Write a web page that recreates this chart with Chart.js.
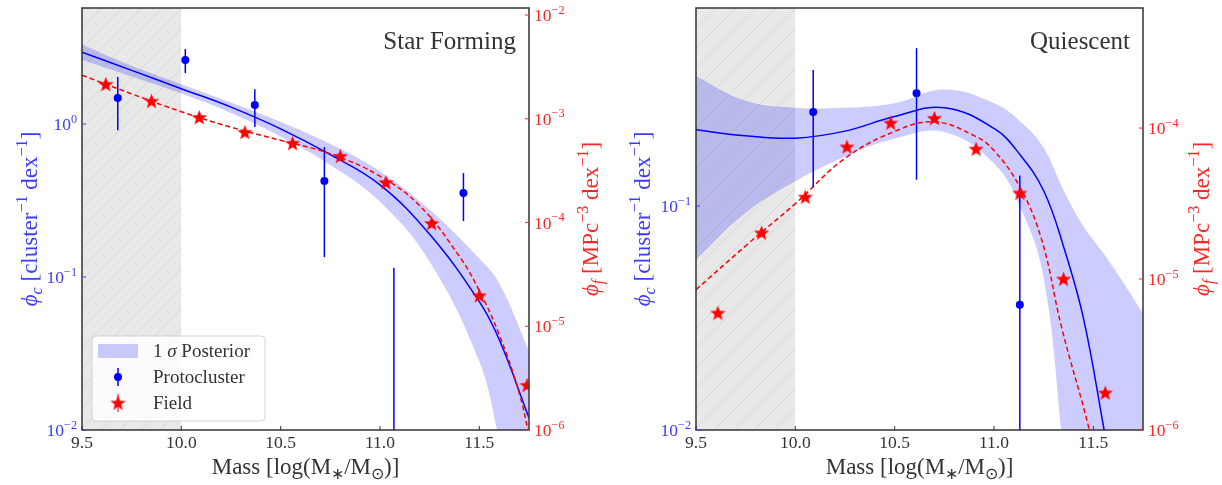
<!DOCTYPE html>
<html>
<head>
<meta charset="utf-8">
<script src="https://cdn.jsdelivr.net/npm/chart.js@4/dist/chart.umd.min.js"></script>
<style>
  body { margin: 0; background: #fff; }
  .panel { position: absolute; top: 0; width: 611px; height: 485px; }
</style>
</head>
<body>
<div class="panel" style="left:0"><canvas id="sfChart" width="611" height="485"></canvas></div>
<div class="panel" style="left:611px"><canvas id="qChart" width="611" height="485"></canvas></div>
<script>
/* shared axis data */
const massTicks = [9.5, 10.0, 10.5, 11.0, 11.5];
const massRange = [9.5, 11.75];
const shadeMass = [9.5, 10.0];   // incompleteness region

/* STAR FORMING */
const sfClusterMass = [9.68, 10.02, 10.37, 10.72, 11.07, 11.42];
const sfClusterPhi  = [1.48, 2.62, 1.33, 0.424, 0.005, 0.354];
const sfClusterLo   = [0.91, 2.15, 0.955, 0.135, 0.0001, 0.232];
const sfClusterHi   = [2.03, 3.09, 1.69, 0.708, 0.115, 0.478];

const sfFieldMass = [9.62, 9.85, 10.09, 10.32, 10.56, 10.80, 11.03, 11.26, 11.50, 11.74];
const sfFieldPhi  = [2.15e-3, 1.48e-3, 1.03e-3, 7.4e-4, 5.8e-4, 4.35e-4, 2.43e-4, 9.8e-5, 1.97e-5, 2.7e-6];

const sfFitMass  = [9.5, 9.75, 10.0, 10.25, 10.5, 10.75, 11.0, 11.25, 11.5, 11.6, 11.75];
const sfFitPhi   = [2.95, 2.24, 1.70, 1.29, 0.93, 0.63, 0.40, 0.19, 0.069, 0.039, 0.012];
const sfFitUpper = [3.31, 2.40, 1.82, 1.38, 1.03, 0.74, 0.49, 0.275, 0.132, 0.091, 0.033];
const sfFitLower = [2.63, 2.04, 1.58, 1.18, 0.83, 0.54, 0.31, 0.126, 0.028, 0.0089, 0.0016];

const sfFieldFitMass = [9.5, 9.75, 10.0, 10.25, 10.5, 10.75, 11.0, 11.2, 11.4, 11.5, 11.6, 11.7, 11.75];
const sfFieldFitPhi  = [2.63e-3, 1.74e-3, 1.17e-3, 8.3e-4, 6.2e-4, 4.6e-4, 2.8e-4, 1.45e-4, 4.7e-5, 2.2e-5, 8.3e-6, 2.3e-6, 0.9e-6];

const sfClusterTicks = [1e-2, 1e-1, 1e0];
const sfFieldTicks   = [1e-6, 1e-5, 1e-4, 1e-3, 1e-2];
const sfClusterRange = [1e-2, 5.73];
const sfFieldRange   = [1e-6, 1.17e-2];

/* QUIESCENT */
const qClusterMass = [10.09, 10.61, 11.13];
const qClusterPhi  = [0.263, 0.319, 0.0362];
const qClusterLo   = [0.122, 0.131, 0.0001];
const qClusterHi   = [0.405, 0.507, 0.137];

const qFieldMass = [9.61, 9.83, 10.05, 10.26, 10.48, 10.70, 10.91, 11.13, 11.35, 11.56];
const qFieldPhi  = [5.95e-6, 2.02e-5, 3.49e-5, 7.5e-5, 1.08e-4, 1.16e-4, 7.26e-5, 3.71e-5, 1.0e-5, 1.76e-6];

const qFitMass  = [9.5, 9.75, 10.0, 10.25, 10.5, 10.75, 11.0, 11.13, 11.25, 11.35, 11.45, 11.55, 11.65, 11.75];
const qFitPhi   = [0.219, 0.206, 0.201, 0.216, 0.251, 0.275, 0.222, 0.170, 0.117, 0.066, 0.0316, 0.0105, 0.0032, 0.0008];
const qFitUpper = [0.380, 0.295, 0.275, 0.275, 0.288, 0.331, 0.288, 0.240, 0.182, 0.1175, 0.0813, 0.0617, 0.0457, 0.0331];
const qFitLower = [0.0575, 0.0933, 0.129, 0.166, 0.200, 0.214, 0.155, 0.100, 0.0479, 0.0079, 0.00126, 2.5e-4, 5e-5, 1e-5];

const qFieldFitMass = [9.5, 9.75, 10.0, 10.25, 10.5, 10.7, 10.9, 11.0, 11.13, 11.24, 11.34, 11.48, 11.6];
const qFieldFitPhi  = [8.5e-6, 1.66e-5, 3.16e-5, 6.3e-5, 9.5e-5, 1.10e-4, 8.9e-5, 7.1e-5, 4.07e-5, 1.82e-5, 4.8e-6, 1.0e-6, 2.0e-7];

const qClusterTicks = [1e-2, 1e-1];
const qFieldTicks   = [1e-6, 1e-5, 1e-4];
const qClusterRange = [1e-2, 0.766];
const qFieldRange   = [1e-6, 6.24e-4];

/* styling */
const SERIF = '"Liberation Serif", "Times New Roman", serif';
const BLUE = '#0000ff', RED = '#ff0000';
const BLUE_TXT = '#3c3cff', RED_TXT = '#ff2626', INK = '#333333';
const BAND = 'rgba(0,0,255,0.2)';

function makeStar(size, color) {
  const c = document.createElement('canvas');
  c.width = c.height = size;
  const g = c.getContext('2d');
  const r = size / 2 - 0.5, ri = r * 0.42, cx = size / 2, cy = size / 2 + 0.5;
  g.beginPath();
  for (let k = 0; k < 10; k++) {
    const a = -Math.PI / 2 + k * Math.PI / 5;
    const rr = k % 2 ? ri : r;
    g.lineTo(cx + rr * Math.cos(a), cy + rr * Math.sin(a));
  }
  g.closePath();
  g.fillStyle = color;
  g.fill();
  return c;
}
const starImg = makeStar(17, RED);

const pts = (xs, ys) => xs.map((x, i) => ({ x, y: ys[i] }));

// text with super/subscripts, drawn left->right from (x, y) baseline
function drawRich(ctx, parts, x, y, size, color, align, angle) {
  const fontOf = p => `${p.it ? 'italic ' : ''}${p.sup || p.sub ? size * 0.7 : size}px ${SERIF}`;
  ctx.save();
  ctx.translate(x, y);
  if (angle) ctx.rotate(angle);
  ctx.textAlign = 'left';
  ctx.textBaseline = 'alphabetic';
  ctx.fillStyle = color;
  const widths = parts.map(p => { ctx.font = fontOf(p); return ctx.measureText(p.t).width; });
  const total = widths.reduce((a, b) => a + b, 0);
  let cx = align === 'center' ? -total / 2 : align === 'right' ? -total : 0;
  parts.forEach((p, i) => {
    ctx.font = fontOf(p);
    const dy = p.sup ? -size * 0.42 : p.sub ? size * 0.22 : 0;
    ctx.fillText(p.t, cx, dy);
    cx += widths[i];
  });
  ctx.restore();
}

const powLabel = v => [{ t: '10' }, { t: String(Math.round(Math.log10(v))).replace('-', '\u2212'), sup: true }];

function decorPlugin(cfg) {
  return {
    id: 'decor',
    beforeDatasetsDraw(chart) {
      const { ctx, chartArea: a, scales: { x } } = chart;
      const x0 = x.getPixelForValue(shadeMass[0]), x1 = x.getPixelForValue(shadeMass[1]);
      const h = a.bottom - a.top;
      ctx.save();
      ctx.beginPath();
      ctx.rect(x0, a.top, x1 - x0, h);
      ctx.clip();
      ctx.fillStyle = '#e8e8e8';
      ctx.fillRect(x0, a.top, x1 - x0, h);
      ctx.strokeStyle = '#d7d7d7';
      ctx.lineWidth = 1;
      ctx.beginPath();
      for (let k = -h; k < x1 - x0; k += 20) {
        ctx.moveTo(x0 + k, a.bottom);
        ctx.lineTo(x0 + k + h, a.top);
      }
      ctx.stroke();
      ctx.restore();
    },
    beforeDatasetDraw(chart, args) {
      if (args.index !== cfg.clusterIndex) return;
      const { ctx, chartArea: a } = chart;
      const meta = args.meta, ys = meta.yScale;
      ctx.save();
      ctx.beginPath();
      ctx.rect(a.left, a.top, a.right - a.left, a.bottom - a.top);
      ctx.clip();
      ctx.strokeStyle = BLUE;
      ctx.lineWidth = 1.5;
      meta.data.forEach((p, i) => {
        ctx.beginPath();
        ctx.moveTo(p.x, ys.getPixelForValue(cfg.clusterHi[i]));
        ctx.lineTo(p.x, ys.getPixelForValue(cfg.clusterLo[i]));
        ctx.stroke();
      });
      ctx.restore();
    },
    afterDraw(chart) {
      const { ctx, chartArea: a, scales } = chart;
      const W = chart.width;
      // frame
      ctx.save();
      ctx.strokeStyle = INK;
      ctx.lineWidth = 1.5;
      ctx.strokeRect(a.left, a.top, a.right - a.left, a.bottom - a.top);

      // inward ticks + labels
      ctx.lineWidth = 1;
      scales.x.ticks.forEach(t => {
        const px = scales.x.getPixelForValue(t.value);
        ctx.strokeStyle = INK;
        ctx.beginPath(); ctx.moveTo(px, a.bottom); ctx.lineTo(px, a.bottom - 4); ctx.stroke();
        drawRich(ctx, [{ t: t.value.toFixed(1) }], px, a.bottom + 18, 17.5, INK, 'center');
      });
      scales.yL.ticks.forEach(t => {
        const py = scales.yL.getPixelForValue(t.value);
        ctx.strokeStyle = BLUE_TXT;
        ctx.beginPath(); ctx.moveTo(a.left, py); ctx.lineTo(a.left + 4, py); ctx.stroke();
        drawRich(ctx, powLabel(t.value), a.left - 5, py + 6, 17.5, BLUE_TXT, 'right');
      });
      scales.yR.ticks.forEach(t => {
        const py = scales.yR.getPixelForValue(t.value);
        ctx.strokeStyle = RED_TXT;
        ctx.beginPath(); ctx.moveTo(a.right, py); ctx.lineTo(a.right - 4, py); ctx.stroke();
        drawRich(ctx, powLabel(t.value), a.right + 5, py + 6, 17.5, RED_TXT, 'left');
      });
      ctx.restore();

      const midY = (a.top + a.bottom) / 2;
      drawRich(ctx, [{ t: 'Mass [log(M' }, { t: '\u2217', sub: true }, { t: '/M' }, { t: '\u2299', sub: true }, { t: ')]' }],
        (a.left + a.right) / 2, 474, 23, INK, 'center');
      drawRich(ctx, [{ t: '\u03d5', it: true }, { t: 'c', it: true, sub: true }, { t: ' [cluster' }, { t: '\u22121', sup: true },
        { t: ' dex' }, { t: '\u22121', sup: true }, { t: ']' }], cfg.leftTitleX, midY, 23, BLUE_TXT, 'center', -Math.PI / 2);
      drawRich(ctx, [{ t: '\u03d5', it: true }, { t: 'f', it: true, sub: true }, { t: ' [MPc' }, { t: '\u22123', sup: true },
        { t: ' dex' }, { t: '\u22121', sup: true }, { t: ']' }], W - 13, midY, 23, RED_TXT, 'center', -Math.PI / 2);

      drawRich(ctx, [{ t: cfg.name }], a.right - 13, 49, 25, INK, 'right');

      if (cfg.legend) drawLegend(ctx);
    }
  };
}

function drawLegend(ctx) {
  const bx = 92, by = 336, bw = 173, bh = 85;
  ctx.save();
  ctx.beginPath();
  ctx.roundRect(bx, by, bw, bh, 4);
  ctx.fillStyle = 'rgba(255,255,255,0.8)';
  ctx.fill();
  ctx.strokeStyle = 'rgba(204,204,204,0.8)';
  ctx.lineWidth = 1;
  ctx.stroke();

  ctx.fillStyle = BAND;
  ctx.fillRect(98, 344, 40, 14);

  ctx.strokeStyle = BLUE; ctx.lineWidth = 1.5;
  ctx.beginPath(); ctx.moveTo(118, 368); ctx.lineTo(118, 386); ctx.stroke();
  ctx.fillStyle = BLUE;
  ctx.beginPath(); ctx.arc(118, 377, 4, 0, Math.PI * 2); ctx.fill();

  ctx.strokeStyle = RED; ctx.lineWidth = 1;
  ctx.beginPath(); ctx.moveTo(118, 394); ctx.lineTo(118, 412); ctx.stroke();
  ctx.drawImage(starImg, 118 - starImg.width / 2, 403 - starImg.height / 2);
  ctx.restore();

  drawRich(ctx, [{ t: '1 ' }, { t: '\u03c3', it: true }, { t: ' Posterior' }], 153, 357, 19, INK, 'left');
  drawRich(ctx, [{ t: 'Protocluster' }], 153, 383, 19, INK, 'left');
  drawRich(ctx, [{ t: 'Field' }], 153, 409, 19, INK, 'left');
}

function buildPanel(canvasId, cfg) {
  const logAxis = (position, range, ticks, width) => ({
    type: 'logarithmic', position, min: range[0], max: range[1],
    afterBuildTicks: s => { s.ticks = ticks.map(v => ({ value: v })); },
    afterFit: s => { s.width = width; },
    ticks: { display: false }, grid: { display: false }, border: { display: false }
  });
  const curve = { pointRadius: 0, tension: 0.4 };

  return new Chart(document.getElementById(canvasId), {
    type: 'line',
    data: {
      datasets: [
        { ...curve, data: pts(cfg.fitMass, cfg.fitUpper), yAxisID: 'yL', borderWidth: 0,
          backgroundColor: BAND, fill: 1, order: 5 },
        { ...curve, data: pts(cfg.fitMass, cfg.fitLower), yAxisID: 'yL', borderWidth: 0,
          fill: false, order: 5 },
        { ...curve, data: pts(cfg.fitMass, cfg.fitPhi), yAxisID: 'yL', borderColor: BLUE, borderWidth: 1.5,
          fill: false, order: 3 },
        { ...curve, data: pts(cfg.fieldFitMass, cfg.fieldFitPhi), yAxisID: 'yR', borderColor: RED, borderWidth: 1.5,
          borderDash: [5, 3], fill: false, order: 2 },
        { data: pts(cfg.clusterMass, cfg.clusterPhi), yAxisID: 'yL', showLine: false, pointRadius: 4,
          pointBackgroundColor: BLUE, pointBorderWidth: 0, order: 1 },
        { data: pts(cfg.fieldMass, cfg.fieldPhi), yAxisID: 'yR', showLine: false, pointStyle: starImg,
          order: 0 }
      ]
    },
    options: {
      responsive: false,
      animation: false,
      layout: { padding: { top: 8, left: 0, right: 0, bottom: 0 } },
      plugins: { legend: { display: false }, tooltip: { enabled: false } },
      scales: {
        x: {
          type: 'linear', min: massRange[0], max: massRange[1],
          afterBuildTicks: s => { s.ticks = massTicks.map(v => ({ value: v })); },
          afterFit: s => { s.height = 55; },
          ticks: { display: false }, grid: { display: false }, border: { display: false }
        },
        yL: logAxis('left', cfg.clusterRange, cfg.clusterTicks, cfg.leftWidth),
        yR: logAxis('right', cfg.fieldRange, cfg.fieldTicks, cfg.rightWidth)
      }
    },
    plugins: [decorPlugin(cfg)]
  });
}

buildPanel('sfChart', {
  name: 'Star Forming', legend: true, clusterIndex: 4,
  clusterMass: sfClusterMass, clusterPhi: sfClusterPhi, clusterLo: sfClusterLo, clusterHi: sfClusterHi,
  fieldMass: sfFieldMass, fieldPhi: sfFieldPhi,
  fitMass: sfFitMass, fitPhi: sfFitPhi, fitUpper: sfFitUpper, fitLower: sfFitLower,
  fieldFitMass: sfFieldFitMass, fieldFitPhi: sfFieldFitPhi,
  clusterTicks: sfClusterTicks, fieldTicks: sfFieldTicks,
  clusterRange: sfClusterRange, fieldRange: sfFieldRange,
  leftWidth: 82, rightWidth: 82, leftTitleX: 37
});

buildPanel('qChart', {
  name: 'Quiescent', legend: false, clusterIndex: 4,
  clusterMass: qClusterMass, clusterPhi: qClusterPhi, clusterLo: qClusterLo, clusterHi: qClusterHi,
  fieldMass: qFieldMass, fieldPhi: qFieldPhi,
  fitMass: qFitMass, fitPhi: qFitPhi, fitUpper: qFitUpper, fitLower: qFitLower,
  fieldFitMass: qFieldFitMass, fieldFitPhi: qFieldFitPhi,
  clusterTicks: qClusterTicks, fieldTicks: qFieldTicks,
  clusterRange: qClusterRange, fieldRange: qFieldRange,
  leftWidth: 85, rightWidth: 79, leftTitleX: 39
});
</script>
</body>
</html>
